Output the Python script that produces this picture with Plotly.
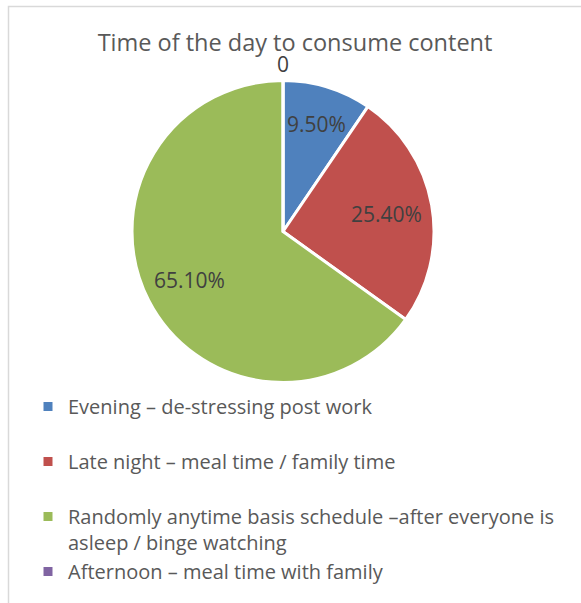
import math
import plotly.graph_objects as go

W, H = 581, 603
title = "Time of the day to consume content"
legend_labels = [
    "Evening – de-stressing post work<br> ",
    "Late night – meal time / family time<br> ",
    "Randomly anytime basis schedule –after everyone is<br>asleep / binge watching",
    "Afternoon – meal time with family",
]
values = [9.5, 25.4, 65.1, 0]
value_text = ["9.50%", "25.40%", "65.10%", "0"]
colors = ["#4F81BD", "#C0504D", "#9BBB59", "#8064A2"]

FONT = "Open Sans"
cx, cy, r = 283, 231.5, 150
rd = r + 1

fig = go.Figure(go.Pie(
    labels=legend_labels,
    values=values,
    sort=False,
    direction="clockwise",
    rotation=0,
    marker=dict(colors=colors, line=dict(color="white", width=3)),
    textinfo="none",
    hoverinfo="label+percent",
    domain=dict(x=[(cx - rd) / W, (cx + rd) / W],
                y=[1 - (cy + rd) / H, 1 - (cy - rd) / H]),
))

# data labels placed from data (mid-angle of each slice)
total = sum(values)
cum = 0
annotations = []
for v, t in zip(values, value_text):
    mid = (cum + v / 2) / total * 2 * math.pi
    cum += v
    frac = 0.70 if v > 0 else 1.12
    if v > 0 and v / total < 0.15:
        frac = 0.76
    px = cx + frac * r * math.sin(mid)
    py = cy - frac * r * math.cos(mid)
    annotations.append(dict(
        x=px / W, y=1 - py / H, xref="paper", yref="paper",
        text=t, showarrow=False, xanchor="center", yanchor="middle",
        yshift=-1,
        font=dict(family=FONT, size=21, color="#404040"),
    ))

fig.update_layout(
    width=W, height=H,
    margin=dict(l=0, r=0, t=0, b=0),
    paper_bgcolor="white",
    plot_bgcolor="white",
    title=dict(text=title, x=295 / W, xanchor="center", y=1 - 43 / H, yanchor="middle",
               font=dict(family=FONT, size=23.5, color="#595959")),
    showlegend=True,
    legend=dict(
        x=28 / W, xanchor="left", y=1 - 387 / H, yanchor="top",
        font=dict(family=FONT, size=20, color="#595959"),
        valign="top",
        bgcolor="rgba(0,0,0,0)",
    ),
    annotations=annotations,
    shapes=[dict(type="rect", xref="paper", yref="paper",
                 x0=8.5 / W, x1=1.02, y0=-0.02, y1=1 - 6.5 / H,
                 line=dict(color="#D9D9D9", width=1.5))],
)

fig.write_html("out.html")
